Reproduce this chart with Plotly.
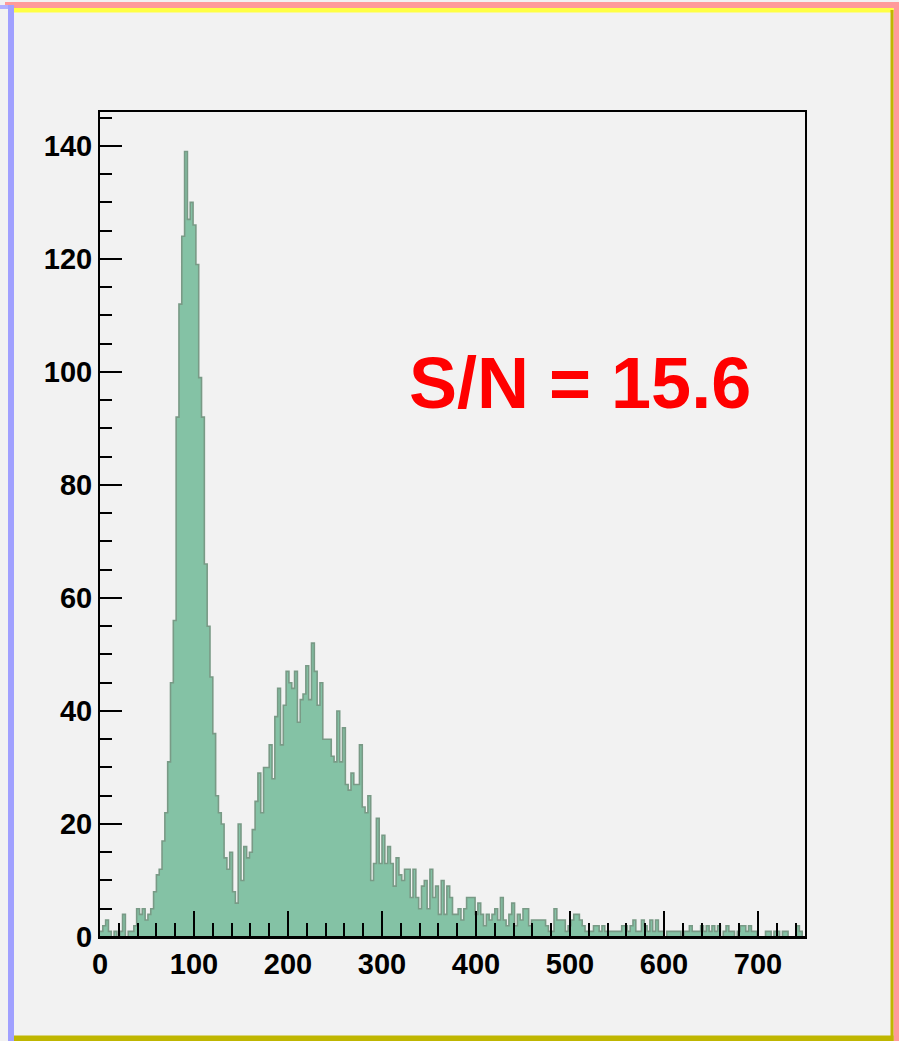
import numpy as np
import plotly.graph_objects as go

# ---- data (histogram, bin width 3, range 0-750) ----
bin_width = 3
x_min = 0
counts = [
    1, 2, 3, 1, 0, 1, 0, 1, 4, 0,
    1, 1, 2, 5, 4, 5, 3, 4, 5, 8,
    11, 12, 17, 22, 31, 45, 56, 92, 112, 124,
    139, 127, 130, 126, 119, 99, 92, 66, 55, 46,
    36, 25, 22, 20, 14, 12, 15, 8, 6, 20,
    10, 16, 14, 15, 19, 24, 29, 22, 30, 30,
    34, 28, 39, 44, 34, 41, 47, 45, 44, 47,
    38, 42, 43, 48, 42, 52, 47, 41, 45, 35,
    35, 35, 32, 31, 40, 31, 37, 27, 26, 29,
    27, 27, 34, 23, 22, 25, 10, 13, 21, 13,
    18, 13, 16, 13, 9, 14, 11, 10, 12, 12,
    7, 12, 7, 5, 9, 10, 5, 12, 7, 9,
    4, 10, 4, 9, 7, 4, 4, 5, 3, 5,
    7, 7, 7, 4, 6, 4, 2, 4, 3, 4,
    5, 3, 7, 3, 2, 4, 6, 2, 4, 3,
    5, 5, 2, 3, 3, 3, 3, 3, 2, 1,
    1, 5, 3, 3, 3, 1, 2, 3, 4, 4,
    3, 2, 1, 1, 1, 2, 2, 1, 2, 1,
    1, 1, 1, 1, 1, 2, 2, 1, 2, 3,
    1, 1, 3, 2, 1, 3, 1, 3, 1, 1,
    0, 1, 1, 1, 1, 1, 0, 1, 1, 2,
    1, 1, 1, 2, 1, 2, 1, 2, 1, 2,
    0, 1, 2, 1, 1, 0, 1, 2, 2, 1,
    2, 1, 1, 0, 0, 0, 1, 1, 0, 1,
    1, 0, 1, 1, 0, 0, 0, 2, 1, 0,
]
annotation_text = "S/N = 15.6"
x_range = [0, 750]
y_range = [0, 146]

# ---- build step outline from bins ----
edges = x_min + bin_width * np.arange(len(counts) + 1)
ys = list(counts) + [counts[-1]]

W, H = 899, 1041
L, R, T, B = 100, 805, 112, 937  # plot area in pixels


def px(xp):
    return (xp - L) / (R - L)


def py(yp):
    return (B - yp) / (B - T)


fig = go.Figure()
fig.add_trace(go.Scatter(
    x=edges, y=ys, mode="lines", line_shape="hv",
    line=dict(color="#799a86", width=1.6),
    fill="tozeroy", fillcolor="#84c2a5",
    hoverinfo="skip", showlegend=False,
))

tickfont = dict(family="Liberation Sans, Arial, Helvetica, sans-serif",
                size=29, color="black", weight="bold")

fig.update_xaxes(
    range=x_range, showgrid=False, zeroline=False,
    showline=True, linecolor="black", linewidth=2, mirror=True,
    ticks="inside", ticklen=26, tickwidth=2, tickcolor="black",
    tick0=0, dtick=100, tickfont=tickfont,
    minor=dict(ticks="inside", ticklen=14, tickwidth=2, tickcolor="black", dtick=20, showgrid=False),
)
fig.update_yaxes(
    range=y_range, showgrid=False, zeroline=False,
    showline=True, linecolor="black", linewidth=2, mirror=True,
    ticks="inside", ticklen=22, tickwidth=2, tickcolor="black",
    tick0=0, dtick=20, tickfont=tickfont,
    minor=dict(ticks="inside", ticklen=12, tickwidth=2, tickcolor="black", dtick=5, showgrid=False),
)

shapes = []


def band(x0, y0, x1, y1, color):
    shapes.append(dict(type="rect", xref="paper", yref="paper",
                       x0=px(x0), x1=px(x1), y0=py(y1), y1=py(y0),
                       fillcolor=color, line=dict(width=0), layer="above"))


# thicker bottom axis line
band(L - 1, B - 1, R + 1, B + 2, "black")
# decorative frame borders
band(5, 2, 899, 8, "#ff9a9a")        # top pink
band(893.5, 2, 899, 1041, "#ff9a9a")  # right pink
band(14, 8, 893.5, 12.5, "#ffff44")   # top yellow
band(890.5, 10, 893.5, 1041, "#bfb600")  # right olive
band(14, 1035.5, 893.5, 1041, "#bfb600")  # bottom olive
band(8, 5, 14, 1041, "#a0a0ff")       # left blue
band(0, 5, 8, 9, "#b0b0ff")

fig.update_layout(
    width=W, height=H,
    margin=dict(l=L, r=W - R, t=T, b=H - B, pad=0),
    paper_bgcolor="#f2f2f2", plot_bgcolor="#f2f2f2",
    shapes=shapes,
    annotations=[dict(
        text=annotation_text, xref="paper", yref="paper",
        x=px(580), y=py(383), xanchor="center", yanchor="middle",
        showarrow=False,
        font=dict(family="Liberation Sans, Arial, Helvetica, sans-serif", size=72,
                  color="#ff0000", weight="bold"),
    )],
)

fig.write_html("out.html", config={"displayModeBar": False},
               post_script="document.body.style.margin='0px';document.body.style.overflow='hidden';")
